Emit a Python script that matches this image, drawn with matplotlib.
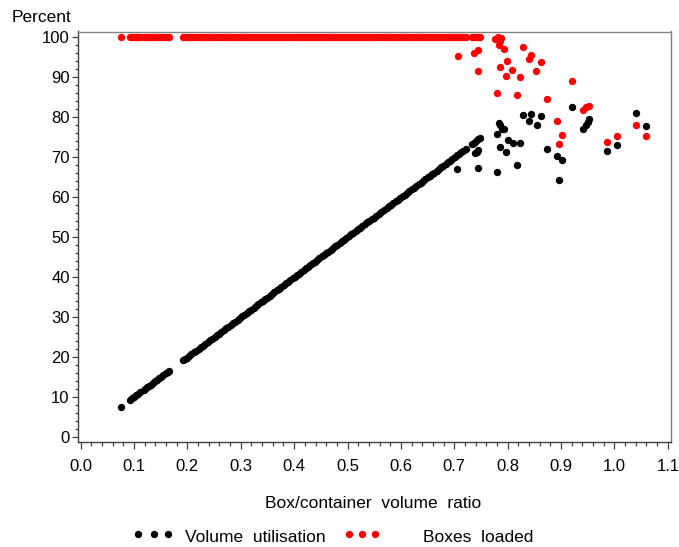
import matplotlib
matplotlib.use("Agg")
import matplotlib.pyplot as plt
from matplotlib.lines import Line2D
from matplotlib.ticker import MultipleLocator

plt.rcParams['font.family'] = ['Liberation Sans', 'DejaVu Sans']

# containers where every box fitted: boxes loaded = 100 %
full_ratio = [
    0.075,
    0.093, 0.097, 0.100, 0.104, 0.108, 0.112, 0.118, 0.121, 0.125, 0.128,
    0.131, 0.135, 0.139, 0.143, 0.147, 0.151, 0.155, 0.159, 0.163, 0.166,
    0.192, 0.196, 0.199, 0.203, 0.207, 0.212, 0.216, 0.221, 0.225, 0.229,
    0.233, 0.238, 0.242, 0.246, 0.251, 0.255, 0.259, 0.263, 0.268, 0.272,
    0.276, 0.281, 0.285, 0.289, 0.294, 0.298, 0.302, 0.306, 0.311, 0.315,
    0.319, 0.324, 0.328, 0.332, 0.337, 0.341, 0.345, 0.349, 0.354, 0.358,
    0.362, 0.367, 0.371, 0.376, 0.381, 0.385, 0.389, 0.393, 0.397, 0.401,
    0.405, 0.409, 0.413, 0.418, 0.422, 0.426, 0.430, 0.435, 0.439, 0.443,
    0.447, 0.452, 0.456, 0.460, 0.464, 0.469, 0.473, 0.477, 0.481, 0.486,
    0.490, 0.494, 0.498, 0.503, 0.507, 0.511, 0.515, 0.520, 0.524, 0.528,
    0.532, 0.537, 0.541, 0.545, 0.549, 0.554, 0.558, 0.562, 0.569, 0.573,
    0.577, 0.581, 0.586, 0.590, 0.594, 0.598, 0.603, 0.607, 0.611, 0.616,
    0.620, 0.624, 0.628, 0.633, 0.637, 0.641, 0.645, 0.650, 0.654, 0.658,
    0.662, 0.667, 0.671, 0.675, 0.679, 0.684, 0.688, 0.692, 0.696, 0.701,
    0.705, 0.709, 0.713, 0.717, 0.722,
    0.733, 0.737, 0.741, 0.745, 0.749,
]
full_loaded = [100.0] * len(full_ratio)
# volume utilisation = ratio * share of boxes loaded
full_util = [r * l for r, l in zip(full_ratio, full_loaded)]

# containers that could not take all boxes
util_ratio = [0.706, 0.745, 0.780, 0.817, 0.739, 0.742, 0.745,
              0.783, 0.789, 0.780, 0.794, 0.786, 0.785, 0.797,
              0.800, 0.810, 0.823, 0.828, 0.843, 0.840, 0.855, 0.863,
              0.873, 0.892, 0.901, 0.897, 0.921,
              0.942, 0.946, 0.950, 0.953, 0.986, 1.004, 1.041, 1.059]
util_pct = [67.0, 67.4, 66.4, 68.0, 71.0, 71.4, 71.8,
            78.5, 77.2, 75.9, 77.2, 78.0, 72.6, 71.4,
            74.3, 73.7, 73.7, 80.6, 80.8, 79.1, 78.0, 80.3,
            72.2, 70.3, 69.3, 64.3, 82.6,
            77.2, 78.0, 78.8, 79.5, 71.5, 73.2, 81.0, 77.8]

loaded_ratio = [0.707, 0.736, 0.744, 0.745,
                0.777, 0.781, 0.785, 0.788, 0.783, 0.794,
                0.780, 0.785, 0.798, 0.796, 0.809, 0.823, 0.817,
                0.828, 0.843, 0.840, 0.862, 0.853, 0.873,
                0.921, 0.942, 0.947, 0.953, 0.893, 0.902, 0.897,
                0.986, 1.004, 1.041, 1.059]
loaded_pct = [95.3, 96.0, 96.8, 91.6,
              99.6, 100.0, 99.2, 99.8, 98.0, 97.0,
              86.1, 92.6, 94.1, 90.3, 91.8, 90.1, 85.6,
              97.5, 95.7, 94.5, 93.9, 91.6, 84.6,
              89.1, 81.8, 82.6, 82.8, 79.1, 75.6, 73.3,
              73.8, 75.4, 78.2, 75.4]

fig = plt.figure(figsize=(6.79, 5.47), dpi=100)
ax = fig.add_axes([78 / 679, 1 - 442 / 547, 593 / 679, 410.5 / 547])

ms = 5.3
ax.plot(full_ratio + util_ratio, full_util + util_pct, 'o', color='black',
        ms=ms, mew=0, clip_on=False)
ax.plot(full_ratio + loaded_ratio, full_loaded + loaded_pct, 'o', color='red',
        ms=ms, mew=0, clip_on=False)

ax.set_xlim(-0.005, 1.106)
ax.set_ylim(-1.25, 101.5)
ax.xaxis.set_major_locator(MultipleLocator(0.1))
ax.xaxis.set_minor_locator(MultipleLocator(0.02))
ax.yaxis.set_major_locator(MultipleLocator(10))
ax.yaxis.set_minor_locator(MultipleLocator(2))
ax.set_xticks([i / 10 for i in range(12)])
ax.set_xticklabels(['%.1f' % (i / 10) for i in range(12)])
ax.set_yticks(range(0, 101, 10))

axis_col = '#404040'
for s in ['left', 'bottom']:
    ax.spines[s].set_color(axis_col)
    ax.spines[s].set_linewidth(1.0)
for s in ['top', 'right']:
    ax.spines[s].set_color('#808080')
    ax.spines[s].set_linewidth(1.0)

ax.tick_params(axis='both', which='both', direction='out', colors=axis_col,
               labelcolor='black', labelsize=12, width=0.9)
ax.tick_params(axis='x', which='major', length=5, pad=7)
ax.tick_params(axis='x', which='minor', length=2.7)
ax.tick_params(axis='y', which='major', length=4.5, pad=1.5)
ax.tick_params(axis='y', which='minor', length=2.2)

fig.text(12 / 679, 1 - 17 / 547, 'Percent', fontsize=12.5, ha='left', va='center')
fig.text(373 / 679, 1 - 503 / 547, 'Box/container  volume  ratio', fontsize=12.5,
         ha='center', va='center')

# legend row below the axis label
leg_y = 1 - 534 / 547
fig.add_artist(Line2D([138 / 679, 154 / 679, 168 / 679], [leg_y] * 3,
                      transform=fig.transFigure, ls='none', marker='o',
                      color='black', ms=ms, mew=0))
fig.text(185 / 679, 1 - 537 / 547, 'Volume  utilisation', fontsize=12.5,
         ha='left', va='center')
fig.add_artist(Line2D([349 / 679, 362 / 679, 375 / 679], [leg_y] * 3,
                      transform=fig.transFigure, ls='none', marker='o',
                      color='red', ms=ms, mew=0))
fig.text(423 / 679, 1 - 537 / 547, 'Boxes  loaded', fontsize=12.5,
         ha='left', va='center')

fig.savefig('out.png', dpi=100)
